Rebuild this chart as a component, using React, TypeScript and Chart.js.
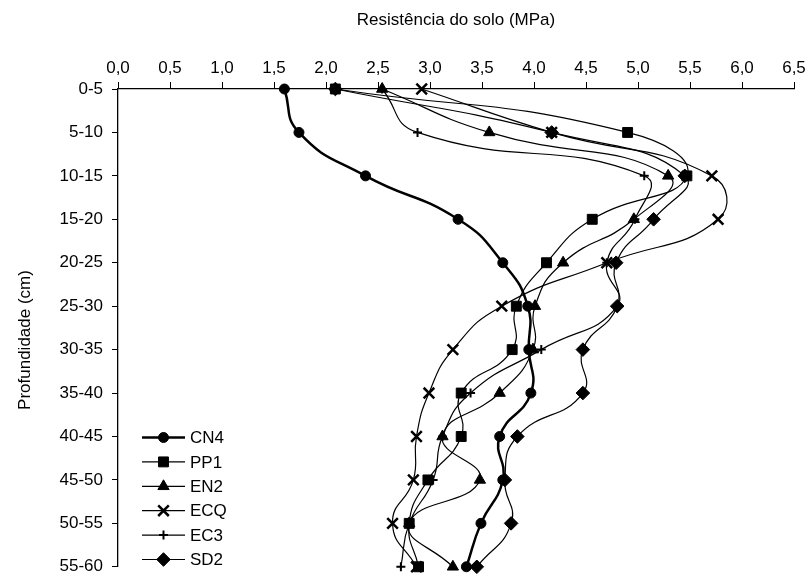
import React, { useEffect, useRef } from 'react';
import { Chart, registerables } from 'chart.js';
import { drawPoint } from 'chart.js/helpers';

Chart.register(...registerables);

const depthLabels = ['0-5', '5-10', '10-15', '15-20', '20-25', '25-30', '30-35', '35-40', '40-45', '45-50', '50-55', '55-60'];

const cn4 = [1.60, 1.74, 2.38, 3.27, 3.70, 3.94, 3.95, 3.97, 3.67, 3.70, 3.49, 3.35];
const pp1 = [2.09, 4.90, 5.47, 4.56, 4.12, 3.83, 3.79, 3.30, 3.30, 2.98, 2.80, 2.89];
const en2 = [2.54, 3.57, 5.29, 4.96, 4.28, 4.01, 3.99, 3.67, 3.12, 3.48, 2.80, 3.22];
const ecq = [2.92, 4.17, 5.71, 5.77, 4.70, 3.69, 3.22, 2.99, 2.87, 2.84, 2.64, 2.87];
const ec3 = [2.54, 2.88, 5.06, 4.97, 4.70, 4.80, 4.07, 3.39, 3.12, 3.03, 2.80, 2.72];
const sd2 = [2.09, 4.17, 5.45, 5.15, 4.79, 4.80, 4.47, 4.47, 3.84, 3.72, 3.78, 3.45];

const seriesNames = ['CN4', 'PP1', 'EN2', 'ECQ', 'EC3', 'SD2'];
const seriesValues = [cn4, pp1, en2, ecq, ec3, sd2];
const pointStyles = ['circle', 'rect', 'triangle', 'crossRot', 'cross', 'rectRot'];
const pointRadii = [5, 7, 6.5, 7.5, 4.5, 6.8];
const pointBorders = [1, 1, 1, 2.5, 2, 1];
const lineWidths = [2.5, 1.2, 1.2, 1.2, 1.2, 1.2];

const xMin = 0;
const xMax = 6.5;
const xStep = 0.5;

const xTitle = 'Resistência do solo (MPa)';
const yTitle = 'Profundidade (cm)';

const FONT = "'Liberation Sans', Arial, sans-serif";
const FONT_SIZE = 17;

const overlayPlugin = {
  id: 'overlayText',
  afterDatasetsDraw(chart: any) {
    const ctx = chart.ctx;
    const x0 = 142;
    const x1 = 185;
    const xm = 163.5;
    const y0 = 437.5;
    const dy = 24.4;
    ctx.save();
    chart.data.datasets.forEach((ds: any, i: number) => {
      const y = y0 + i * dy;
      ctx.strokeStyle = '#000';
      ctx.lineWidth = ds.borderWidth;
      ctx.beginPath();
      ctx.moveTo(x0, y);
      ctx.lineTo(x1, y);
      ctx.stroke();
      ctx.fillStyle = '#000';
      ctx.strokeStyle = '#000';
      ctx.lineWidth = ds.pointBorderWidth;
      drawPoint(ctx, { pointStyle: ds.pointStyle, radius: ds.pointRadius, rotation: 0, borderWidth: ds.pointBorderWidth }, xm, y);
      ctx.font = `${FONT_SIZE}px ${FONT}`;
      ctx.textBaseline = 'middle';
      ctx.textAlign = 'left';
      ctx.fillStyle = '#000';
      ctx.fillText(ds.label, 190, y + 1);
    });
    // y axis title
    ctx.translate(25, 340);
    ctx.rotate(-Math.PI / 2);
    ctx.font = `${FONT_SIZE}px ${FONT}`;
    ctx.textAlign = 'center';
    ctx.textBaseline = 'middle';
    ctx.fillStyle = '#000';
    ctx.fillText(yTitle, 0, 0);
    ctx.restore();
  },
};

export default function App() {
  const ref = useRef<HTMLCanvasElement | null>(null);

  useEffect(() => {
    if (!ref.current) return;
    const chart = new Chart(ref.current, {
      type: 'line',
      data: {
        labels: depthLabels,
        datasets: seriesNames.map((name, i) => ({
          label: name,
          data: seriesValues[i],
          borderColor: '#000',
          backgroundColor: '#000',
          borderWidth: lineWidths[i],
          pointStyle: pointStyles[i] as any,
          pointRadius: pointRadii[i],
          pointBorderWidth: pointBorders[i],
          pointBackgroundColor: '#000',
          pointBorderColor: '#000',
          tension: 0.5,
          fill: false,
        })),
      },
      options: {
        indexAxis: 'y',
        responsive: false,
        animation: false,
        layout: { padding: { left: 0, top: 0, right: 17, bottom: 14 } },
        plugins: {
          legend: { display: false },
          tooltip: { enabled: false },
        },
        scales: {
          x: {
            type: 'linear',
            position: 'top',
            min: xMin,
            max: xMax,
            ticks: {
              stepSize: xStep,
              color: '#000',
              font: { family: FONT, size: FONT_SIZE },
              padding: 3,
              callback: (v: any) => Number(v).toFixed(1).replace('.', ','),
            },
            grid: { drawOnChartArea: false, drawTicks: true, tickLength: 7, color: '#000', lineWidth: 1 },
            border: { display: true, color: '#000', width: 1.3 },
            title: {
              display: true,
              text: xTitle,
              color: '#000',
              font: { family: FONT, size: FONT_SIZE },
              padding: { top: 10, bottom: 0 },
            },
            afterFit: (s: any) => { s.height = 89; },
          },
          y: {
            type: 'category',
            position: 'left',
            offset: false,
            ticks: {
              color: '#000',
              font: { family: FONT, size: FONT_SIZE },
              padding: 9,
              autoSkip: false,
            },
            grid: { drawOnChartArea: false, drawTicks: true, tickLength: 6, color: '#000', lineWidth: 1 },
            border: { display: true, color: '#000', width: 1.3 },
            title: { display: false },
            afterFit: (s: any) => { s.width = 118; },
          },
        },
      } as any,
      plugins: [overlayPlugin],
    });
    return () => chart.destroy();
  }, []);

  return (
    <div style={{ position: 'absolute', left: 0, top: 0, width: 811, height: 586, background: '#fff' }}>
      <canvas ref={ref} width={811} height={586} style={{ display: 'block' }} />
    </div>
  );
}
